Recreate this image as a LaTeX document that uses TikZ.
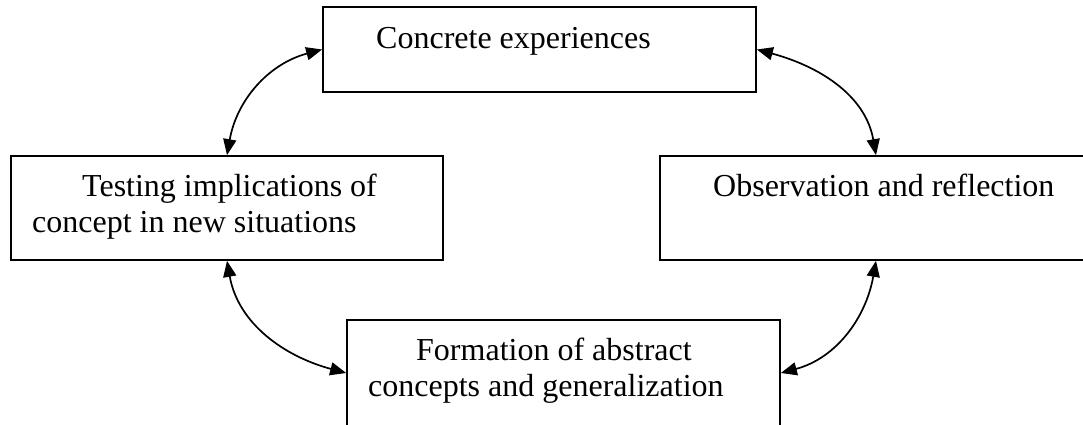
\documentclass[tikz,border=0pt]{standalone}
\usepackage{fontspec}
\setmainfont{Liberation Serif}
\usetikzlibrary{arrows.meta}
\begin{document}
\begin{tikzpicture}[x=1pt,y=1pt,
  stagebox/.style={draw=black, line width=1.7pt, rectangle, inner sep=0pt, minimum width=432pt},
  boxtext/.style={anchor=base west, inner sep=0pt, font=\fontsize{32}{36}\selectfont},
  cyclearrow/.style={line width=1.7pt, {Triangle[length=16pt,width=13pt]}-{Triangle[length=16pt,width=13pt]}}]
  \clip (0,0) rectangle (1083,425);
  \fill[white] (0,0) rectangle (1083,425);

  % the four stages of the cycle
  \node[stagebox, minimum height=85pt, minimum width=433pt] (concrete) at (539.5,375.5) {};
  \node[stagebox, minimum height=104pt] (testing) at (227,217) {};
  \node[stagebox, minimum height=104pt] (observe) at (876,217) {};
  \node[stagebox, minimum height=106pt, minimum width=433pt] (abstract) at (563.5,52) {};

  % stage labels
  \node[boxtext] (tConcrete) at (376,376) {Concrete experiences};
  \node[boxtext] (tTesting1) at (82,228) {Testing implications of};
  \node[boxtext] (tTesting2) at (32,192) {concept in new situations};
  \node[boxtext] (tObserve) at (713,228) {Observation and reflection};
  \node[boxtext] (tAbstract1) at (416,64) {Formation of abstract};
  \node[boxtext] (tAbstract2) at (368,28) {concepts and generalization};

  % two-way links between neighbouring stages
  \draw[cyclearrow] (concrete.west) to[out=195,in=80] (testing.north);
  \draw[cyclearrow] (concrete.east) to[out=-15,in=100] (observe.north);
  \draw[cyclearrow] (testing.south) to[out=-80,in=165] (abstract.west);
  \draw[cyclearrow] (observe.south) to[out=-100,in=15] (abstract.east);
\end{tikzpicture}
\end{document}
